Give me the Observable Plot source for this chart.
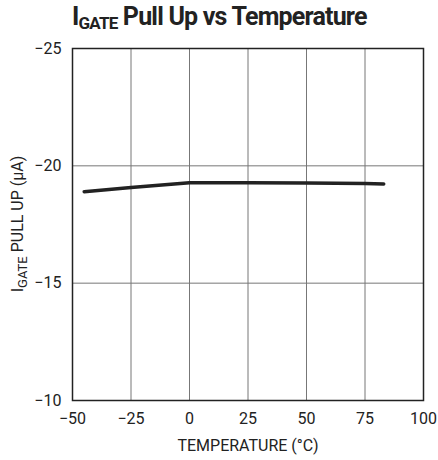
<!DOCTYPE html>
<html>
<head>
<meta charset="utf-8">
<script src="https://cdn.jsdelivr.net/npm/d3@7"></script>
<script src="https://cdn.jsdelivr.net/npm/@observablehq/plot@0.6"></script>
<style>
  body { margin: 0; background: #fff; font-family: Roboto, "Liberation Sans", sans-serif; }
  #wrap { position: relative; width: 438px; height: 460px; }
  #title { position: absolute; left: 72px; top: 2px; font-size: 25px; font-weight: bold; color: #222; white-space: nowrap; letter-spacing: -0.8px; }
  #title sub { font-size: 17px; vertical-align: -4px; }
  #chart { position: absolute; left: 0; top: 40px; }
</style>
</head>
<body>
<div id="wrap">
  <div id="title">I<sub>GATE</sub> Pull Up vs Temperature</div>
  <div id="chart"></div>
</div>
<script>
const temperature = [-45, -25, 0, 25, 50, 75, 83];
const pullUp = [-18.9, -19.08, -19.28, -19.28, -19.27, -19.25, -19.23];
const xTicks = [-50, -25, 0, 25, 50, 75, 100];
const yTicks = [-25, -20, -15, -10];

const data = temperature.map((t, i) => ({t, v: pullUp[i]}));
const font = 'Roboto, "Liberation Sans", sans-serif';

const plot = Plot.plot({
  width: 438,
  height: 420,
  marginTop: 8,
  marginBottom: 60,
  marginLeft: 72,
  marginRight: 15,
  style: {fontFamily: font, fontSize: "16px", color: "#222", background: "#fff"},
  x: {domain: [-50, 100], ticks: xTicks, tickSize: 0, tickPadding: 12, label: "TEMPERATURE (°C)", labelAnchor: "center", labelArrow: "none", labelOffset: 50},
  y: {domain: [-10, -25], ticks: yTicks, tickSize: 0, tickPadding: 11, label: null},
  marks: [
    Plot.gridX(xTicks, {stroke: "#777", strokeOpacity: 1, strokeWidth: 1}),
    Plot.gridY(yTicks, {stroke: "#777", strokeOpacity: 1, strokeWidth: 1}),
    Plot.frame({stroke: "#222", strokeWidth: 1.5}),
    Plot.line(data, {x: "t", y: "v", stroke: "#222", strokeWidth: 3.5})
  ]
});
document.getElementById("chart").appendChild(plot);

// rotated y label with subscript
const svg = d3.select(plot);
const lbl = svg.append("text")
  .attr("transform", "translate(23,184) rotate(-90)")
  .attr("text-anchor", "middle")
  .attr("fill", "#222")
  .style("font-family", font)
  .style("font-size", "16px");
lbl.append("tspan").text("I");
lbl.append("tspan").attr("dy", 4).style("font-size", "13px").text("GATE");
lbl.append("tspan").attr("dy", -4).text(" PULL UP (µA)");
</script>
</body>
</html>
